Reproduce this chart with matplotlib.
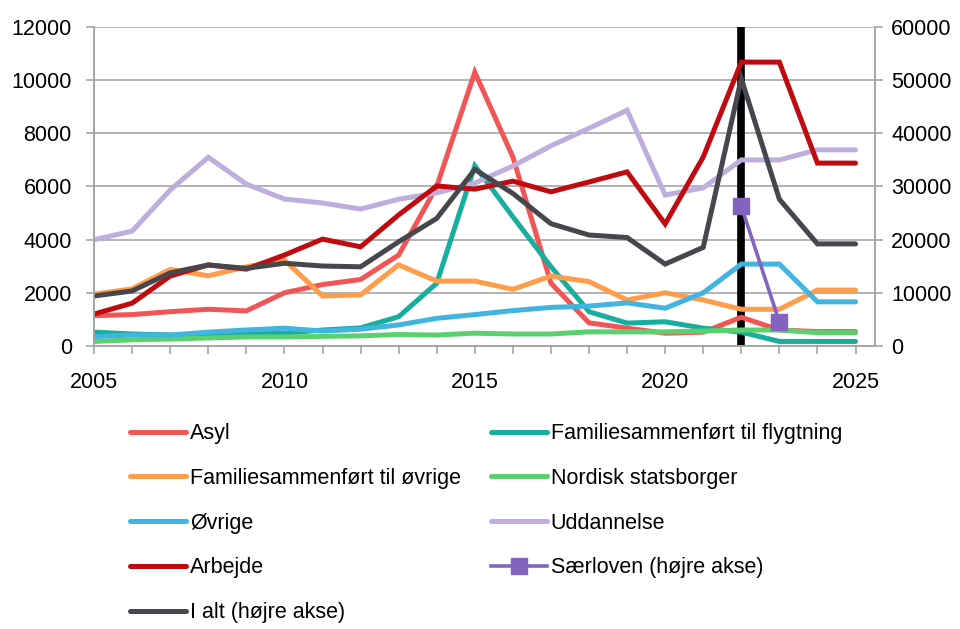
import numpy as np
import matplotlib
matplotlib.use("Agg")
import matplotlib.pyplot as plt

plt.rcParams['font.family'] = ['Liberation Sans', 'DejaVu Sans']

years = np.arange(2005, 2026)

asyl = [1140, 1180, 1290, 1380, 1320, 2000, 2310, 2500, 3420, 6000, 10300,
        7110, 2360, 870, 670, 480, 520, 1080, 600, 540, 540]
fam_flygt = [520, 450, 410, 420, 440, 480, 600, 680, 1100, 2360, 6780,
             4860, 2980, 1290, 860, 910, 670, 520, 170, 170, 170]
fam_ovrige = [1950, 2150, 2880, 2640, 2980, 3230, 1880, 1920, 3050, 2440, 2440,
              2130, 2630, 2420, 1730, 2000, 1730, 1380, 1380, 2100, 2100]
nordisk = [170, 230, 260, 300, 340, 340, 360, 380, 430, 410, 480,
           450, 450, 530, 530, 530, 560, 600, 600, 500, 500]
ovrige = [350, 410, 410, 520, 600, 670, 560, 630, 790, 1040, 1180,
          1330, 1450, 1500, 1620, 1420, 2000, 3080, 3080, 1660, 1660]
uddannelse = [4000, 4320, 5870, 7100, 6090, 5530, 5380, 5150, 5520, 5760, 6130,
              6770, 7530, 8190, 8870, 5680, 5950, 7000, 7000, 7380, 7380]
arbejde = [1200, 1610, 2630, 3050, 2890, 3420, 4020, 3730, 4930, 6020, 5900,
           6200, 5800, 6170, 6550, 4590, 7110, 10680, 10680, 6880, 6880]
i_alt = [9400, 10350, 13750, 15230, 14600, 15560, 15040, 14890, 19600, 24000, 33200,
         28700, 23000, 20870, 20400, 15400, 18550, 50300, 27600, 19200, 19200]
saerloven_years = [2022, 2023]
saerloven = [26300, 4500]

fig = plt.figure(figsize=(9.6, 6.29), dpi=100)
ax = fig.add_axes([0.098, 0.450, 0.813, 0.507])
ax2 = ax.twinx()

grid_col = '#a6a6a6'
lw = 3.6

ax.axvline(2022, color='black', lw=5.5, zorder=1)

series = [
    (asyl, '#f25555', 'Asyl'),
    (fam_flygt, '#17ae9e', 'Familiesammenført til flygtning'),
    (fam_ovrige, '#ff9d4a', 'Familiesammenført til øvrige'),
    (nordisk, '#5ad06f', 'Nordisk statsborger'),
    (ovrige, '#41b4e0', 'Øvrige'),
    (uddannelse, '#bdaedd', 'Uddannelse'),
    (arbejde, '#bf0a0f', 'Arbejde'),
]
handles = {}
for vals, col, lab in series:
    h, = ax.plot(years, vals, color=col, lw=lw, solid_capstyle='round',
                 solid_joinstyle='miter', label=lab, zorder=2)
    handles[lab] = h

h, = ax2.plot(years, i_alt, color='#47464c', lw=lw, solid_capstyle='round',
              solid_joinstyle='miter', label='I alt (højre akse)')
handles['I alt (højre akse)'] = h
h, = ax2.plot(saerloven_years, saerloven, color='#8264c0', lw=2.6,
              marker='s', markersize=12, label='Særloven (højre akse)')
handles['Særloven (højre akse)'] = h

ax.set_xlim(2005, 2025.5)
ax.set_ylim(0, 12000)
ax2.set_ylim(0, 60000)
ax.set_yticks(np.arange(0, 12001, 2000))
ax2.set_yticks(np.arange(0, 60001, 10000))
ax.set_xticks(years)
ax.set_xticklabels([str(y) if y % 5 == 0 else '' for y in years])

ax.grid(axis='y', color=grid_col, lw=1.2)
ax.set_axisbelow(True)
for a in (ax, ax2):
    a.spines['top'].set_visible(False)
    for s in ('left', 'right', 'bottom'):
        a.spines[s].set_color(grid_col)
        a.spines[s].set_linewidth(1.2)
    a.tick_params(colors=grid_col, labelcolor='black', labelsize=15.5,
                  length=6, width=1.2)
ax.tick_params(axis='x', pad=13)
ax.tick_params(axis='y', pad=10)
ax2.tick_params(axis='y', pad=6)

col1 = ['Asyl', 'Familiesammenført til øvrige', 'Øvrige', 'Arbejde', 'I alt (højre akse)']
col2 = ['Familiesammenført til flygtning', 'Nordisk statsborger', 'Uddannelse',
        'Særloven (højre akse)']
for names, xpos in ((col1, 0.135), (col2, 0.511)):
    fig.legend([handles[n] for n in names], names, loc='upper left',
               bbox_to_anchor=(xpos, 0.327), frameon=False, fontsize=15.5,
               handlelength=2.6, handletextpad=0.2, labelspacing=1.1,
               borderpad=0, borderaxespad=0)

fig.savefig('out.png', dpi=100)
